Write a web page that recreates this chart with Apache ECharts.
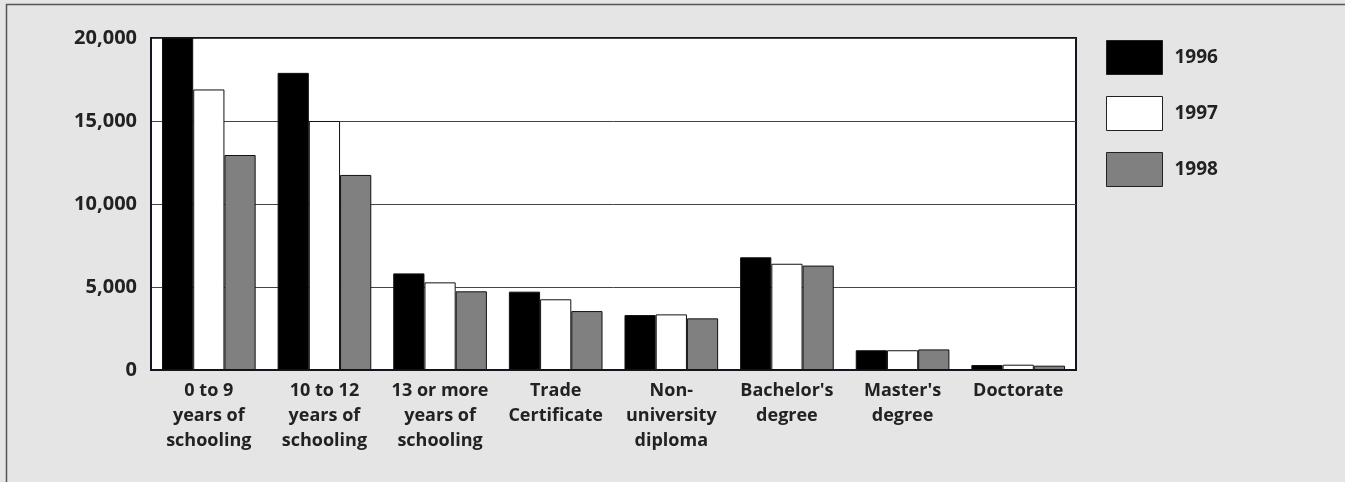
<!DOCTYPE html>
<html>
<head>
<meta charset="utf-8">
<script src="https://cdn.jsdelivr.net/npm/echarts@6/dist/echarts.min.js"></script>
<style>
  html, body { margin: 0; padding: 0; background: #fff; }
  #chart { width: 1345px; height: 482px; }
</style>
</head>
<body>
<div id="chart"></div>
<script>
var categories = [
  '0 to 9\nyears of\nschooling',
  '10 to 12\nyears of\nschooling',
  '13 or more\nyears of\nschooling',
  'Trade\nCertificate',
  'Non-\nuniversity\ndiploma',
  "Bachelor's\ndegree",
  "Master's\ndegree",
  'Doctorate'
]
var y1996 = [20000, 17900, 5820, 4720, 3310, 6790, 1190, 300]
var y1997 = [16900, 15000, 5280, 4260, 3350, 6400, 1190, 320]
var y1998 = [12950, 11750, 4740, 3550, 3110, 6290, 1240, 260]
var years = ['1996', '1997', '1998']
var colors = ['#000000', '#ffffff', '#808080']

var chart = echarts.init(document.getElementById('chart'))
var font = 'Open Sans'

function makeSeries(name, data, color) {
  return {
    name: name,
    type: 'bar',
    data: data,
    barGap: '0%',
    barCategoryGap: '19%',
    itemStyle: {
      color: color,
      borderColor: '#111',
      borderWidth: 1
    }
  }
}

chart.setOption({
  animation: false,
  backgroundColor: '#e5e5e5',
  graphic: [{
    type: 'rect',
    shape: { x: 6.5, y: 4.5, width: 1400, height: 600 },
    style: { fill: 'none', stroke: '#555', lineWidth: 1.5 },
    z: 100
  }],
  grid: {
    left: 151,
    top: 38,
    right: 269,
    bottom: 112,
    show: true,
    backgroundColor: '#ffffff',
    borderColor: '#15151f',
    borderWidth: 2
  },
  legend: {
    orient: 'vertical',
    left: 1106,
    top: 40,
    padding: 0,
    icon: 'rect',
    itemWidth: 56,
    itemHeight: 34,
    itemGap: 21,
    data: years,
    itemStyle: { borderColor: '#222', borderWidth: 1 },
    textStyle: {
      fontFamily: font,
      fontWeight: 'bold',
      fontSize: 19,
      color: '#222',
      padding: [0, 0, 0, 7]
    }
  },
  xAxis: {
    type: 'category',
    data: categories,
    axisTick: { show: false },
    axisLine: { lineStyle: { color: '#15151f', width: 2 } },
    axisLabel: {
      interval: 0,
      margin: 8,
      fontFamily: font,
      fontWeight: 'bold',
      fontSize: 18,
      lineHeight: 25,
      color: '#222'
    }
  },
  yAxis: {
    type: 'value',
    min: 0,
    max: 20000,
    interval: 5000,
    axisLine: { show: true, lineStyle: { color: '#15151f', width: 2 } },
    axisTick: { show: false },
    splitLine: { lineStyle: { color: '#444', width: 1 } },
    axisLabel: {
      margin: 14,
      fontFamily: font,
      fontWeight: 'bold',
      fontSize: 20,
      color: '#222',
      formatter: function (v) {
        return v.toLocaleString('en-US')
      }
    }
  },
  series: [
    makeSeries('1996', y1996, colors[0]),
    makeSeries('1997', y1997, colors[1]),
    makeSeries('1998', y1998, colors[2])
  ]
})
</script>
</body>
</html>
